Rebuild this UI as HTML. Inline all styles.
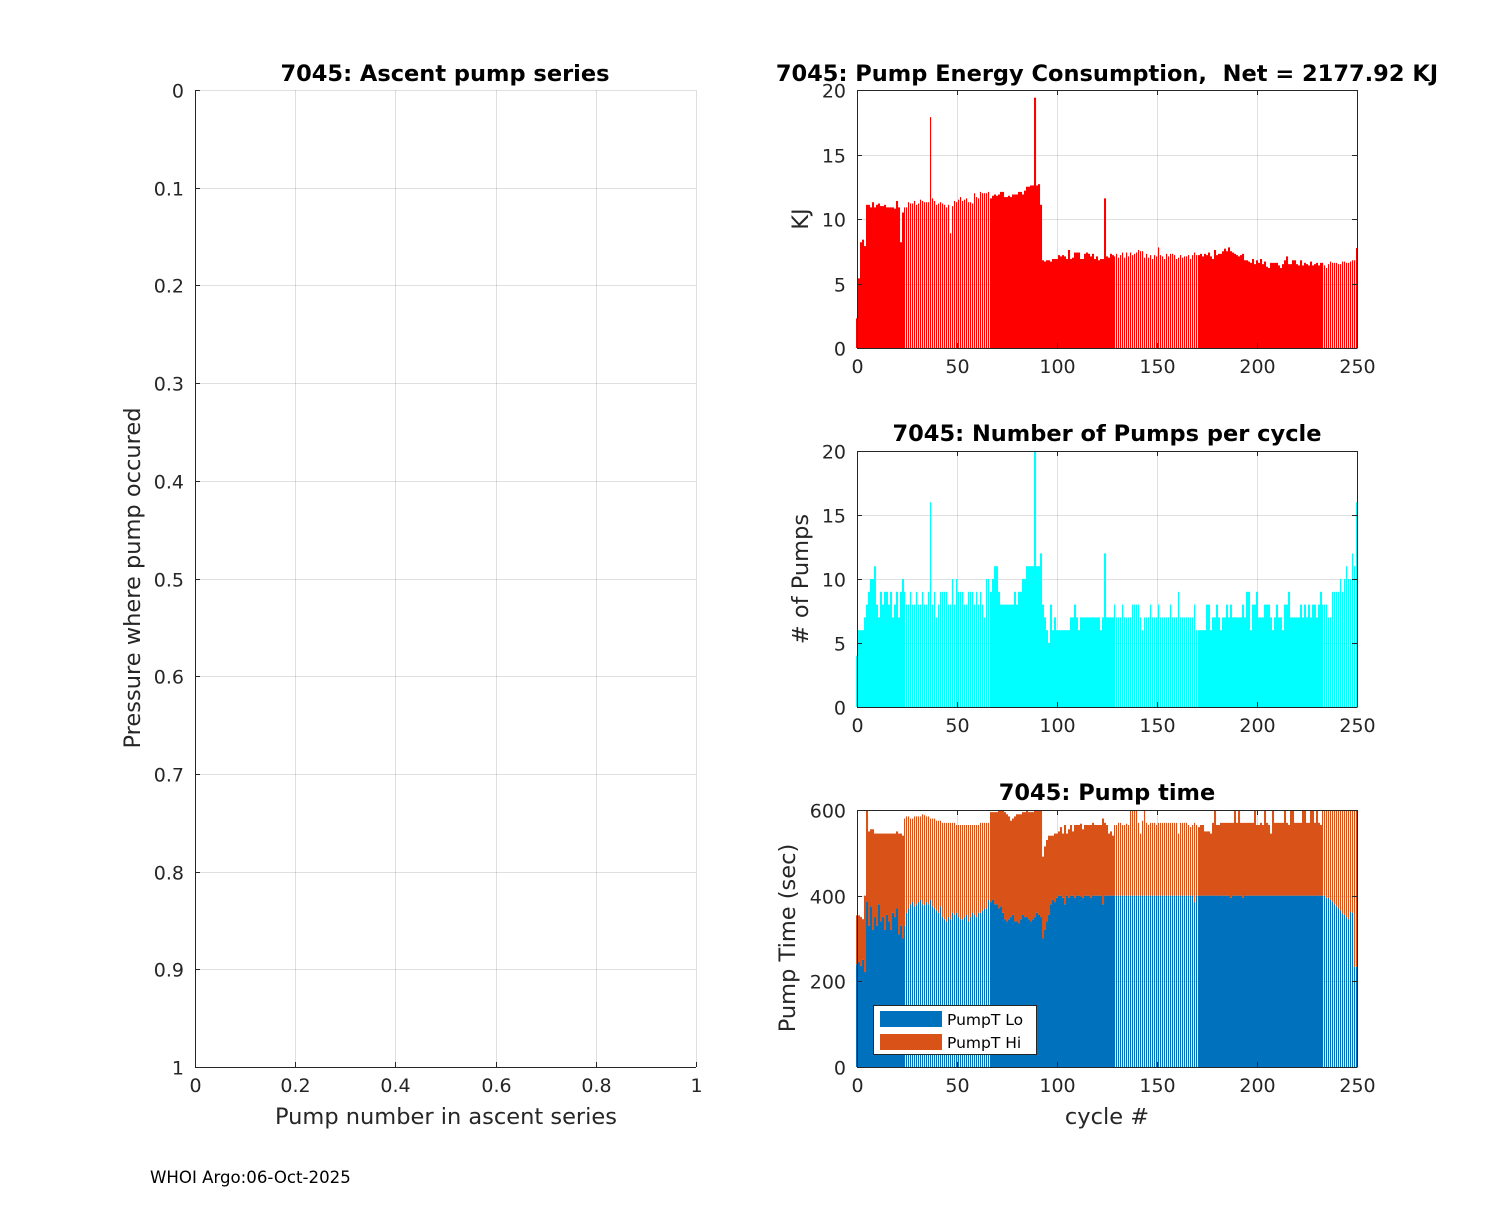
<!DOCTYPE html>
<html><head><meta charset="utf-8"><style>
body{margin:0;background:#fff}
svg text{font-family:"DejaVu Sans","Liberation Sans",sans-serif;fill:#262626}
svg text.ttl{fill:#000;font-weight:bold}
</style></head><body>
<svg id="fig" width="1500" height="1200" xmlns="http://www.w3.org/2000/svg">
<rect width="1500" height="1200" fill="#fff"/>
<g id="g"></g>
<text x="150" y="1183" font-size="16.6" style="fill:#000">WHOI Argo:06-Oct-2025</text>
</svg>
<script>
const energyKJ=[2.3,5.4,8.2,8.4,7.9,11.1,11.1,10.9,11.3,10.9,
11.1,11.2,11,11,11.1,10.9,10.9,10.9,10.9,10.8,
11.4,10.9,8.2,10.5,10.9,10.9,11.3,11.2,11.2,11.4,
11.1,11.2,11.5,11.4,11.3,11.3,11.3,17.9,11.6,11.4,
11.1,11.2,11.3,11.2,11.1,10.9,11.1,8.9,11.0,11.4,
11.3,11.5,11.7,11.4,11.5,11.6,11.3,11.3,11.2,12.0,
11.7,11.6,12.1,12.0,12.0,12.0,12.1,11.6,11.8,11.9,
11.8,11.9,12.1,12.1,11.7,11.7,11.8,11.7,11.9,11.9,
11.9,12.1,12.1,11.9,12.2,12.5,12.5,12.6,12.6,19.4,
12.6,12.7,11.1,6.8,6.7,6.8,6.8,6.7,6.9,6.9,
6.9,7.2,7.1,7.2,7.1,6.9,7.6,6.9,7.0,7.4,
7.4,7.4,6.9,6.9,7.3,7.4,7.3,7.1,7.3,6.9,
7.1,6.8,6.9,6.9,11.6,7.1,7.0,7.3,7.2,7.1,
7.3,7.0,7.2,7.4,7.0,7.4,7.1,7.4,7.2,7.3,
7.4,7.6,7.5,7.5,7.0,7.3,7.0,7.2,6.9,7.2,
7.1,7.8,7.2,7.1,6.9,7.3,7.1,7.3,7.3,7.2,
6.9,7.0,7.2,7.0,7.1,7.1,7.2,6.9,7.2,7.4,
7.2,7.2,7.3,7.1,7.3,7.2,7.4,7.1,6.9,7.6,
7.2,7.3,7.3,7.5,7.7,7.5,7.8,7.5,7.4,7.3,
7.2,7.1,7.2,7.3,6.8,6.8,6.7,6.6,6.9,6.5,
6.8,6.6,6.9,6.5,6.7,6.3,6.2,6.6,6.6,6.6,
6.6,6.4,6.2,6.5,6.8,7.1,6.5,6.5,6.8,6.8,
6.5,6.4,6.8,6.4,6.6,6.5,6.4,6.7,6.4,6.5,
6.6,6.4,6.6,6.6,6.4,6.2,6.5,6.7,6.6,6.6,
6.6,6.5,6.5,6.7,6.7,6.6,6.6,6.7,6.8,6.8,
7.75];
const pumpCount=[4,6,6,6,7,8,9,10,10,11,
8,7,9,8,9,9,8,9,7,8,
9,7,9,10,9,8,8,9,8,8,
9,8,8,9,8,8,9,16,8,9,
7,8,9,9,9,9,8,8,10,8,
10,9,9,9,8,8,9,9,9,8,
9,8,9,8,7,10,10,9,10,11,
11,9,8,8,8,8,8,8,8,9,
8,9,9,10,10,11,11,11,11,20,
11,11,12,8,7,6,5,8,6,7,
6,6,6,6,6,6,6,7,7,8,
7,6,7,7,7,7,7,7,7,7,
7,7,6,7,12,7,7,7,7,8,
7,7,7,8,7,7,7,7,8,8,
8,8,7,6,7,7,7,8,7,7,
7,8,7,7,7,7,7,8,7,7,
7,9,7,7,7,7,7,7,7,8,
6,6,6,6,6,8,8,6,7,7,
8,7,6,7,7,8,7,8,7,7,
7,7,7,8,7,9,9,6,8,8,
9,7,7,7,8,8,8,7,6,7,
8,7,7,6,8,8,9,7,7,7,
7,7,8,7,8,7,8,7,8,8,
7,8,9,8,8,8,7,7,9,9,
9,9,10,9,10,11,10,10,12,11,
16];
const pumpTLo=[240,245,236,250,222,386,330,375,320,350,
330,380,340,350,320,355,340,320,360,350,
370,310,330,300,330,360,370,380,385,375,
380,385,390,380,378,385,380,390,375,370,
365,360,375,350,345,340,350,345,360,355,
360,350,345,345,350,355,340,350,360,355,
350,360,360,365,370,370,390,385,390,380,
380,370,375,360,345,340,345,350,355,340,
340,335,345,355,350,350,345,340,345,350,
360,355,350,300,320,340,355,380,390,385,
395,400,400,395,380,400,395,400,400,395,
400,400,398,395,400,400,400,395,400,400,
400,400,400,380,400,400,400,400,400,400,
400,400,400,400,400,400,400,400,400,400,
400,400,400,400,400,400,400,400,400,400,
400,400,400,400,400,400,400,400,400,400,
400,400,400,400,400,400,400,400,400,385,
400,400,400,400,400,400,400,400,400,400,
400,400,400,400,400,400,400,395,400,400,
400,400,400,395,400,400,400,400,400,400,
400,400,400,400,400,400,400,400,400,400,
400,400,400,400,400,400,400,400,400,400,
400,400,400,400,400,400,400,400,400,400,
400,400,400,400,400,395,395,390,386,380,
375,370,365,358,355,350,345,362,360,234,
234];
const pumpTHi=[114,109,114,95,178,214,220,180,235,195,
215,165,205,195,225,190,205,225,185,195,
180,235,215,240,250,225,215,200,195,210,
205,200,195,210,210,200,205,190,205,210,
210,215,200,220,225,230,220,225,210,215,
205,215,220,220,215,210,225,215,205,210,
215,205,210,205,200,200,180,210,205,215,
215,230,225,240,250,250,240,225,225,245,
250,255,245,240,245,250,250,255,250,250,
240,245,250,191,195,190,185,160,150,160,
150,150,160,150,185,145,160,165,150,170,
165,165,170,160,165,165,165,170,170,165,
165,165,165,200,170,165,145,150,140,165,
165,170,170,165,165,168,165,200,200,200,
200,170,145,175,200,170,165,170,170,170,
165,170,170,170,170,170,170,170,170,170,
170,145,170,170,170,170,165,160,165,185,
165,160,165,165,150,150,150,145,170,200,
165,165,170,170,170,170,170,175,170,200,
170,200,170,175,170,170,170,170,170,200,
165,165,170,165,200,170,165,145,200,170,
170,170,170,170,200,170,165,200,200,170,
170,170,170,200,200,170,170,200,200,170,
200,170,165,200,200,205,205,210,214,220,
225,230,235,242,245,250,255,238,240,366,
366];
const cycleTicks=[0,50,100,150,200,250];
const leftXTicks=[0,0.2,0.4,0.6,0.8,1];
const leftYTicks=[0,0.1,0.2,0.3,0.4,0.5,0.6,0.7,0.8,0.9,1];
const kjTicks=[0,5,10,15,20];
const pumpTicks=[0,5,10,15,20];
const timeTicks=[0,200,400,600];
const stripes=[[24,66],[129,170],[233,250]];

const NS='http://www.w3.org/2000/svg';
const G=document.getElementById('g');
function mk(t,a,p){const e=document.createElementNS(NS,t);for(const k in a)e.setAttribute(k,a[k]);(p||G).appendChild(e);return e;}
function txt(x,y,s,size,anchor,extra){const e=mk('text',Object.assign({x:x,y:y,'font-size':size,'text-anchor':anchor||'middle'},extra||{}));e.textContent=s;return e;}
function isStripe(i){return stripes.some(r=>i>=r[0]&&i<=r[1]);}

function axes(L,T,R,B,xmin,xmax,ymin,ymax,xt,yt,box,yrev,name){
  const g=mk('g',{});
  
  
  const sx=v=>L+(v-xmin)/(xmax-xmin)*(R-L);
  const sy=yrev?(v=>T+(v-ymin)/(ymax-ymin)*(B-T)):(v=>B-(v-ymin)/(ymax-ymin)*(B-T));
  return {g,sx,sy,L,T,R,B,xt,yt,box,name};
}
function decorate(a){
  const {g,sx,sy,L,T,R,B,xt,yt}=a;
  const gl=mk('g',{stroke:'#262626','stroke-opacity':0.15,'stroke-width':1},g);
  xt.forEach(v=>{const x=Math.round(sx(v))+0.5;mk('line',{x1:x,y1:T,x2:x,y2:B},gl);});
  yt.forEach(v=>{const y=Math.round(sy(v))+0.5;mk('line',{x1:L,y1:y,x2:R,y2:y},gl);});
}
function frame(a,xlabels,ylabels){
  const {g,sx,sy,L,T,R,B,xt,yt,box}=a;
  const fr=mk('g',{stroke:'#262626','stroke-width':1,fill:'none'},g);
  mk('line',{x1:L+0.5,y1:T,x2:L+0.5,y2:B+0.5},fr);
  mk('line',{x1:L,y1:B+0.5,x2:R,y2:B+0.5},fr);
  if(box){mk('line',{x1:L,y1:T+0.5,x2:R,y2:T+0.5},fr);mk('line',{x1:R+0.5,y1:T,x2:R+0.5,y2:B+0.5},fr);}
  xt.forEach((v,i)=>{const x=Math.round(sx(v))+0.5;mk('line',{x1:x,y1:B,x2:x,y2:B-5},fr);if(box)mk('line',{x1:x,y1:T,x2:x,y2:T+5},fr);
    const t=txt(x,B+25,xlabels[i],19);});
  yt.forEach((v,i)=>{const y=Math.round(sy(v))+0.5;mk('line',{x1:L,y1:y,x2:L+5,y2:y},fr);if(box)mk('line',{x1:R,y1:y,x2:R-5,y2:y},fr);
    const t=txt(L-11,y+7,ylabels[i],19,'end');});
}
function bars(a,vals,base,color,name){
  const gb=mk('g',{fill:color},a.g);
  
  
  vals.forEach((v,i)=>{
    const b=base?base[i]:0;
    const top=Math.min(v+b,a.yt[a.yt.length-1]);
    const w=isStripe(i)?1.1:2.05;
    const x=a.sx(i)-1;
    const y1=a.sy(top),y0=a.sy(b);
    if(y0-y1<=0)return;
    const r=mk('rect',{x:x,y:y1,width:w,height:y0-y1},gb);
    
    
  });
}
function title(x,y,s,name){const t=txt(x,y,s,22.5,'middle',{'class':'ttl'});return t;}
function label(x,y,s,name,rot){const t=txt(x,y,s,22.5,'middle',rot?{transform:'rotate(-90 '+x+' '+y+')'}:{});return t;}

const A=axes(195,90,696,1067,0,1,0,1,leftXTicks,leftYTicks,false,true,'ascent-pump-axes');
decorate(A);frame(A,leftXTicks.map(String),leftYTicks.map(String));
title(445,81,'7045: Ascent pump series','ascent-title');
label(446,1124,'Pump number in ascent series','x-axis-title');
label(140,578,'Pressure where pump occured','y-axis-title',true);

const E=axes(857,90,1357,348,0,250,0,20,cycleTicks,kjTicks,true,false,'energy-axes');
decorate(E);bars(E,energyKJ,null,'#ff0000','energy');frame(E,cycleTicks.map(String),kjTicks.map(String));
title(1107,81,'7045: Pump Energy Consumption,\u00a0 Net = 2177.92 KJ','energy-title');
label(808,219,'KJ','energy-y-title',true);

const P=axes(857,451,1357,707,0,250,0,20,cycleTicks,pumpTicks,true,false,'pumps-axes');
decorate(P);bars(P,pumpCount,null,'#00ffff','pumps');frame(P,cycleTicks.map(String),pumpTicks.map(String));
title(1107,441,'7045: Number of Pumps per cycle','pumps-title');
label(808,579,'# of Pumps','pumps-y-title',true);

const M=axes(857,810,1357,1067,0,250,0,600,cycleTicks,timeTicks,true,false,'pumptime-axes');
decorate(M);bars(M,pumpTLo,null,'#0072bd','pumpt-lo');bars(M,pumpTHi,pumpTLo,'#d95319','pumpt-hi');frame(M,cycleTicks.map(String),timeTicks.map(String));
title(1107,800,'7045: Pump time','pumptime-title');
label(795,938,'Pump Time (sec)','pumptime-y-title',true);
label(1107,1124,'cycle #','cycle-x-title');

const lg=mk('g',{});


mk('rect',{x:873.5,y:1005.5,width:163,height:49,fill:'#fff',stroke:'#262626'},lg);
let s=mk('rect',{x:880,y:1011,width:62,height:16,fill:'#0072bd'},lg);

s=mk('rect',{x:880,y:1034,width:62,height:16,fill:'#d95319'},lg);

let t=txt(947,1025,'PumpT Lo',15.5,'start',{style:'fill:#000'});
t=txt(947,1048,'PumpT Hi',15.5,'start',{style:'fill:#000'});
</script>
</body></html>
